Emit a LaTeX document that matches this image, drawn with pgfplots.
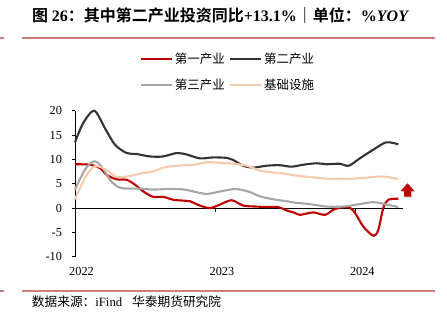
\documentclass[border=0pt]{standalone}
\usepackage{fontspec}
\setmainfont{Liberation Serif}
\newfontfamily\cjk{Noto Sans CJK SC}[BoldFont={Noto Sans CJK SC Bold}]
\usepackage{pgfplots}
\pgfplotsset{compat=1.18}
\definecolor{c1}{HTML}{C00000}
\definecolor{c2}{HTML}{333333}
\definecolor{c3}{HTML}{A6A6A6}
\definecolor{c4}{HTML}{F8CBAD}
\definecolor{rulec}{HTML}{CD7F7F}
\begin{document}
\begin{tikzpicture}[x=1bp,y=1bp]
\useasboundingbox (0,0) rectangle (447,324);
\node[anchor=west, inner sep=0, font=\fontsize{16bp}{18bp}\selectfont] at (32,309)
 {{\cjk\bfseries 图 }{\bfseries 26}{\cjk\bfseries ：其中第二产业投资同比}{\bfseries +13.1\%}{\cjk\bfseries ｜单位：}{\bfseries\%\textit{YOY}}};
\fill[rulec] (0,285) rectangle (3.5,287);
\fill[rulec] (21.7,285) rectangle (435,287);
\fill[rulec] (0,32) rectangle (3.5,34);
\fill[rulec] (21.7,32) rectangle (435,34);
\node[anchor=west, inner sep=0, font=\fontsize{12.7bp}{15bp}\selectfont] at (31.7,22.5)
 {{\cjk 数据来源：}iFind\hspace{10bp}{\cjk 华泰期货研究院}};
\begin{axis}[
  at={(75bp,67.3bp)}, anchor=south west, scale only axis,
  width=327.6bp, height=146bp,
  xmin=0, xmax=28, ymin=-10, ymax=20,
  axis y line=left, axis x line=middle,
  axis line style={-, line width=0.9bp, black},
  hide obscured x ticks=false, hide obscured y ticks=false,
  tick align=outside, major tick length=3.5bp,
  tick style={black, line width=0.9bp},
  xtick={0,12,24}, xticklabels={2022,2023,2024},
  ytick={-10,-5,0,5,10,15,20}, yticklabels={-10,-5,0,5,10,15,20},
  tick label style={font=\fontsize{12.3bp}{14bp}\selectfont},
  x tick label style={yshift=-52bp, xshift=6.5bp},
  y tick label style={xshift=-6bp},
  clip=false,
  legend columns=2,
  legend style={at={(0.197,1.41)}, anchor=north west, draw=none, fill=none,
    font=\fontsize{12.5bp}{15bp}\selectfont\cjk, inner sep=0pt,
    /tikz/every even column/.append style={column sep=2bp},
    row sep=9.5bp},
  legend image code/.code={\draw[#1, line width=2.2bp] (0bp,0bp) -- (31bp,0bp);},
  every axis plot/.append style={line width=2.1bp, smooth, no markers},
]
\addplot[c1] coordinates {
(0,9.0) (1.28,8.9) (2.14,8.2) (2.71,6.8) (3.56,5.9) (4.42,5.8) (5.13,4.8) (5.84,3.4)
(6.69,2.3) (7.55,2.3) (8.40,1.7) (9.40,1.5) (9.83,1.4) (10.68,0.5) (11.54,0.0) (12.39,0.7)
(13.39,1.6) (14.38,0.5) (15.53,0.3) (16.38,0.2) (17.38,0.2) (18.09,-0.5) (18.80,-1.0)
(19.23,-1.4) (20.37,-0.9) (21.37,-1.4) (22.22,-0.2) (23.36,0.2) (23.93,-1.0) (24.64,-3.8)
(25.50,-5.7) (25.92,-4.5) (26.35,0.0) (26.78,1.7) (27.63,1.9)};
\addlegendentry{第一产业}
\addplot[c2] coordinates {
(0,13.5) (0.71,17.5) (1.65,20.0) (2.56,16.4) (3.42,13.0) (4.42,11.3) (5.27,11.1) (6.41,10.6)
(7.52,10.6) (8.69,11.3) (9.55,11.0) (10.68,10.2) (11.8,10.4) (13.0,10.3) (13.5,9.9) (14.36,8.7)
(15.2,8.3) (16.4,8.7) (17.5,8.8) (18.5,8.5) (19.5,8.9) (20.66,9.2) (21.5,9.0) (22.65,9.1)
(23.4,8.7) (24.4,10.3) (25.5,12.0) (26.6,13.5) (27.63,13.1)};
\addlegendentry{第二产业}
\addplot[c3] coordinates {
(0,3.8) (0.85,7.9) (1.62,9.6) (2.28,8.5) (2.99,5.8) (3.70,4.3) (4.42,4.0) (5.56,4.0)
(6.69,3.8) (7.84,3.9) (9.2,3.85) (10.11,3.4) (11.26,2.9) (12.39,3.4) (13.68,3.9) (14.81,3.4)
(15.81,2.4) (16.95,1.8) (18.09,1.4) (18.80,1.1) (20.09,0.8) (21.51,0.3) (22.93,0.3)
(24.08,0.7) (25.50,1.2) (26.64,0.7) (27.63,0.2)};
\addlegendentry{第三产业}
\addplot[c4] coordinates {
(0,1.8) (0.85,6.2) (1.62,8.5) (2.42,8.2) (3.56,6.4) (4.70,6.6) (5.84,7.2) (6.69,7.5)
(7.55,8.3) (8.69,8.7) (10.11,8.9) (11.26,9.4) (12.39,9.3) (13.53,9.1) (14.68,8.7)
(15.81,7.7) (16.95,7.3) (18.09,7.0) (18.80,6.7) (20.37,6.3) (21.79,6.0) (23.5,6.0)
(25.21,6.3) (26.21,6.5) (27.63,6.0)};
\addlegendentry{基础设施}
\end{axis}
% decorative up arrow
\fill[black!30, opacity=0.6] (408.5,139.7) -- (415.3,132) -- (412,132) -- (412,126.3) -- (405,126.3) -- (405,132) -- (401.7,132) -- cycle;
\fill[c1] (407.5,140.7) -- (414.3,133) -- (411,133) -- (411,127.3) -- (404,127.3) -- (404,133) -- (400.7,133) -- cycle;
\end{tikzpicture}
\end{document}
